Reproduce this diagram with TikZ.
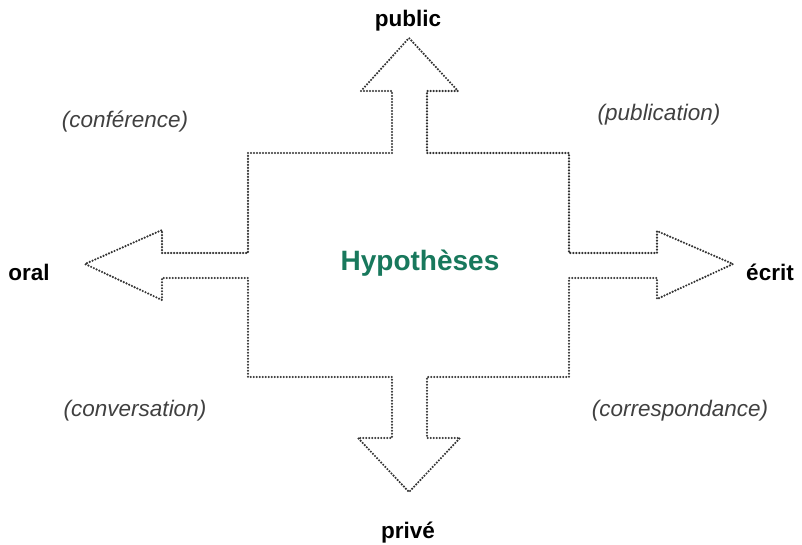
\documentclass[tikz,border=0pt]{standalone}
\usepackage{fontspec}
\setmainfont{Liberation Sans}
\definecolor{hypvert}{RGB}{24,120,92}
\tikzset{
  contour/.style={draw=black!80, line width=2.4pt, line cap=round, dash pattern=on 0pt off 3pt},
  pole/.style={font=\fontsize{22.5}{26}\selectfont\bfseries, anchor=base},
  genre/.style={font=\fontsize{22.5}{26}\selectfont\itshape, text=black!75, anchor=base},
}
\begin{document}
\begin{tikzpicture}[x=1pt, y=-1pt]
  \useasboundingbox (0,0) rectangle (802,545);

  % Carre central avec les quatre fleches
  \draw[contour] (248,153) -- (392,153) -- (392,91) -- (361,91) -- (409,38) -- (458,91)
    -- (427,91) -- (427,153) -- (569,153) -- (569,253) -- (657,253) -- (657,231)
    -- (733,264) -- (657,299) -- (657,278) -- (569,278) -- (569,377) -- (427,377)
    -- (427,438) -- (460,438) -- (409,492) -- (358,438) -- (392,438) -- (392,377)
    -- (248,377) -- (248,278) -- (162,278) -- (162,300) -- (85,264) -- (162,230)
    -- (162,253) -- (248,253) -- cycle;

  \node[font=\fontsize{28}{32}\selectfont\bfseries, text=hypvert, anchor=base] (hyp) at (420,270) {Hypothèses};

  % Poles
  \node[pole] (public) at (408,27) {public};
  \node[pole] (prive) at (408,538) {privé};
  \node[pole] (oral) at (29,280) {oral};
  \node[pole] (ecrit) at (770,280) {écrit};

  % Genres
  \node[genre] (conf) at (125,128) {(conférence)};
  \node[genre] (publi) at (659,121) {(publication)};
  \node[genre] (conv) at (135,416) {(conversation)};
  \node[genre] (corresp) at (680,416) {(correspondance)};
\end{tikzpicture}
\end{document}
